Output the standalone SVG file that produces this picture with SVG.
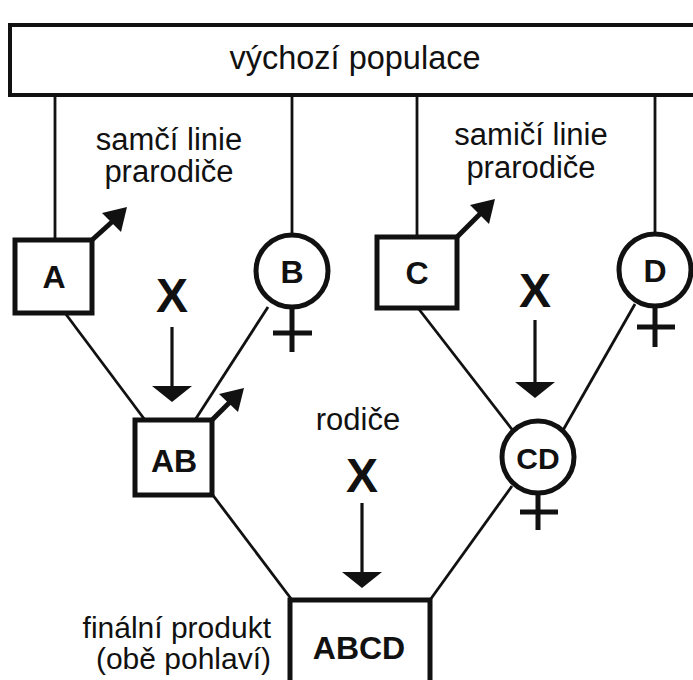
<svg xmlns="http://www.w3.org/2000/svg" width="693" height="680" viewBox="0 0 693 680">
<style>
.t{font-family:"Liberation Sans",Arial,sans-serif;font-size:31px;fill:#111}
.b{font-family:"Liberation Sans",Arial,sans-serif;font-size:32px;font-weight:bold;fill:#111;text-anchor:middle}
.x{font-family:"Liberation Sans",Arial,sans-serif;font-size:48px;font-weight:bold;fill:#111;text-anchor:middle}
.node{fill:#fff;stroke:#111;stroke-width:5}
.con{stroke:#111;stroke-width:2.8;fill:none}
.sym{stroke:#111;stroke-width:5;fill:none}
.head{fill:#111}
</style>
<rect width="693" height="680" fill="#fff"/>
<g id="connectors">
<line class="con" x1="55" y1="95" x2="55" y2="240"/>
<line class="con" x1="292" y1="95" x2="292" y2="235"/>
<line class="con" x1="417" y1="95" x2="417" y2="237"/>
<line class="con" x1="655" y1="95" x2="655" y2="234"/>
<line class="con" x1="65" y1="313" x2="145" y2="420"/>
<line class="con" x1="268" y1="307" x2="195" y2="420"/>
<line class="con" x1="418" y1="308" x2="514" y2="432"/>
<line class="con" x1="635" y1="304" x2="562" y2="432"/>
<line class="con" x1="212" y1="494" x2="292" y2="600"/>
<line class="con" x1="512" y1="486" x2="430" y2="600"/>
<line stroke="#111" stroke-width="3.2" x1="172" y1="327" x2="172" y2="390"/>
<polygon class="head" points="152,386 192,386 172,402"/>
<line stroke="#111" stroke-width="3.2" x1="535" y1="320" x2="535" y2="386"/>
<polygon class="head" points="515,382 555,382 535,398"/>
<line stroke="#111" stroke-width="3.2" x1="362" y1="503" x2="362" y2="576"/>
<polygon class="head" points="342,572 382,572 362,588"/>
</g>
<g id="population">
<rect x="10" y="25" width="700" height="70" fill="#fff" stroke="#111" stroke-width="4"/>
<text class="t" x="355" y="69" text-anchor="middle" style="font-size:32.5px">výchozí populace</text>
</g>
<g id="labels">
<text class="t" x="169" y="150" text-anchor="middle">samčí linie</text>
<text class="t" x="169" y="182" text-anchor="middle">prarodiče</text>
<text class="t" x="531" y="145" text-anchor="middle">samičí linie</text>
<text class="t" x="531" y="178" text-anchor="middle">prarodiče</text>
<text class="t" x="358" y="430" text-anchor="middle">rodiče</text>
<text class="t" x="271" y="638" text-anchor="end" style="font-size:30px">finální produkt</text>
<text class="t" x="271" y="669" text-anchor="end" style="font-size:30px">(obě pohlaví)</text>
<text class="x" x="172" y="312">X</text>
<text class="x" x="535" y="307">X</text>
<text class="x" x="362" y="492">X</text>
</g>
<g id="A">
<rect class="node" x="15" y="240" width="77" height="73"/>
<line class="sym" x1="92" y1="240" x2="113" y2="221"/>
<polygon class="head" points="127,207 121,232 102,213"/>
<text class="b" x="54" y="288">A</text>
</g>
<g id="B">
<circle class="node" cx="292" cy="271" r="36"/>
<line class="sym" x1="292" y1="307" x2="292" y2="352"/>
<line class="sym" x1="273" y1="333" x2="312" y2="333"/>
<text class="b" x="292" y="283">B</text>
</g>
<g id="C">
<rect class="node" x="377" y="237" width="80" height="71"/>
<line class="sym" x1="457" y1="237" x2="481" y2="213"/>
<polygon class="head" points="495,199 489,224 470,205"/>
<text class="b" x="417" y="284">C</text>
</g>
<g id="D">
<circle class="node" cx="655" cy="270" r="36"/>
<line class="sym" x1="655" y1="306" x2="655" y2="347"/>
<line class="sym" x1="637" y1="327" x2="675" y2="327"/>
<text class="b" x="655" y="282">D</text>
</g>
<g id="AB">
<rect class="node" x="135" y="420" width="77" height="75"/>
<line class="sym" x1="212" y1="420" x2="230" y2="402"/>
<polygon class="head" points="244,388 238,412 219,394"/>
<text class="b" x="174" y="472">AB</text>
</g>
<g id="CD">
<circle class="node" cx="538" cy="457" r="36"/>
<line class="sym" x1="538" y1="493" x2="538" y2="530"/>
<line class="sym" x1="520" y1="512" x2="558" y2="512"/>
<text class="b" x="538" y="469" style="font-size:30px">CD</text>
</g>
<g id="ABCD">
<rect class="node" x="290" y="600" width="140" height="95"/>
<text class="b" x="359" y="659">ABCD</text>
</g>
</svg>
